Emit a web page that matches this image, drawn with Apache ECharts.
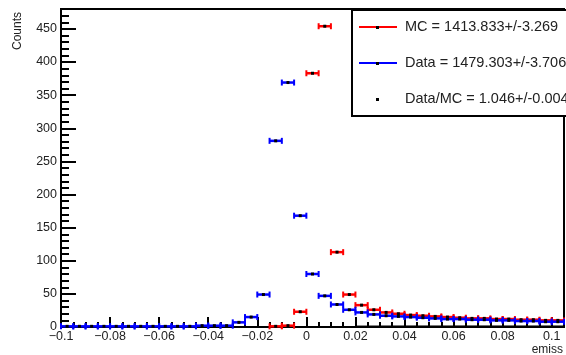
<!DOCTYPE html>
<html>
<head>
<meta charset="utf-8">
<script src="https://cdn.jsdelivr.net/npm/echarts@6/dist/echarts.min.js"></script>
<style>html,body{margin:0;padding:0;background:#fff;}#c{width:566px;height:355px;}</style>
</head>
<body>
<div id="c"></div>
<script>
const binWidth = 0.005;
const binCenters = [-0.0975,-0.0925,-0.0875,-0.0825,-0.0775,-0.0725,-0.0675,-0.0625,-0.0575,-0.0525,
  -0.0475,-0.0425,-0.0375,-0.0325,-0.0275,-0.0225,-0.0175,-0.0125,-0.0075,-0.0025,
  0.0025,0.0075,0.0125,0.0175,0.0225,0.0275,0.0325,0.0375,0.0425,0.0475,
  0.0525,0.0575,0.0625,0.0675,0.0725,0.0775,0.0825,0.0875,0.0925,0.0975,0.1025];
const mcValues = [null,null,null,null,null,null,null,null,null,null,
  null,null,null,null,null,null,null,1,2,23,
  383,454,113,49,33,26,22,20,18,17,
  16,15,14,13,13,12,12,11,11,10,10];
const dataValues = [1,1,1,1,1,1,1,1,1,1,
  1,2,2,2,7,15,49,281,369,168,
  80,47,34,26,22,19,17,16,15,14,
  13,12,12,11,11,10,10,9,9,8,8];
const ratioValues = [null,null,null,null,null,null,null,null,null,null,
  null,null,null,null,null,null,null,null,null,null,
  null,null,null,null,0.67,0.73,0.77,0.8,0.83,0.82,
  0.81,0.8,0.86,0.85,0.85,0.83,0.83,0.82,0.82,0.8,0.8];
const yTicks = [0,50,100,150,200,250,300,350,400,450];
const legendTexts = ['MC = 1413.833+/-3.269','Data = 1479.303+/-3.706','Data/MC = 1.046+/-0.004'];

const FONT = 'Liberation Sans, Arial, Helvetica, sans-serif';

function pairs(vals){ return binCenters.map((c,i)=> vals[i]==null ? null : [c, vals[i]]).filter(p=>p); }

function errBar(color, lw, capH, marker){
  return function(params, api){
    const c = api.coord([api.value(0), api.value(1)]);
    const hw = api.size([binWidth, 0])[0] / 2;
    const ch = [
      {type:'line', shape:{x1:c[0]-hw, y1:c[1], x2:c[0]+hw, y2:c[1]}, style:{stroke:color, lineWidth:lw}},
      {type:'line', shape:{x1:c[0]-hw, y1:c[1]-capH, x2:c[0]-hw, y2:c[1]+capH}, style:{stroke:color, lineWidth:2}},
      {type:'line', shape:{x1:c[0]+hw, y1:c[1]-capH, x2:c[0]+hw, y2:c[1]+capH}, style:{stroke:color, lineWidth:2}}
    ];
    if (marker) ch.push({type:'rect', shape:{x:c[0]-1.5, y:c[1]-1.5, width:3, height:3}, style:{fill:'#000'}});
    return {type:'group', children: ch};
  };
}

const chart = echarts.init(document.getElementById('c'), null, {renderer:'canvas'});
const fmtX = v => { const r = Math.round(v*1000)/1000; if (r === 0) return '0'; return (r<0?'\u2212':'') + String(Math.abs(r)); };

chart.setOption({
  animation:false,
  backgroundColor:'#fff',
  grid:{left:61, top:9, right:2, bottom:28, show:true, borderColor:'#000', borderWidth:2, backgroundColor:'transparent'},
  xAxis:{
    type:'value', min:-0.1, max:0.105, interval:0.02,
    axisLine:{show:true, onZero:false, lineStyle:{color:'#000', width:2}},
    axisTick:{show:true, inside:true, length:10, lineStyle:{color:'#000', width:2}},
    minorTick:{show:true, splitNumber:4, length:5, lineStyle:{color:'#000', width:2}},
    splitLine:{show:false},
    axisLabel:{margin:3, color:'#222', fontSize:12.5, fontFamily:FONT, showMaxLabel:false, formatter:fmtX}
  },
  yAxis:{
    type:'value', min:0, max:480, interval:50,
    axisLine:{show:true, onZero:false, lineStyle:{color:'#000', width:2}},
    axisTick:{show:true, inside:true, length:15, lineStyle:{color:'#000', width:2}},
    minorTick:{show:true, splitNumber:5, length:8, lineStyle:{color:'#000', width:2}},
    splitLine:{show:false},
    axisLabel:{margin:4, color:'#222', fontSize:12.5, fontFamily:FONT, showMaxLabel:false,
      formatter: v => yTicks.indexOf(v) >= 0 ? String(v) : ''}
  },
  series:[
    {type:'custom', name:'MC', data:pairs(mcValues), renderItem:errBar('#ff0000', 2.5, 3, true), z:3},
    {type:'custom', name:'Data', data:pairs(dataValues), renderItem:errBar('#0000ff', 2.5, 3, true), z:4},
    {type:'custom', name:'Data/MC', data:pairs(ratioValues), renderItem:errBar('#000000', 2, 0, false), z:5}
  ],
  graphic:[
    {type:'text', x:18, y:31, rotation:Math.PI/2, z:10,
      style:{text:'Counts', font:'12px '+FONT, fill:'#222', align:'center', verticalAlign:'middle'}},
    {type:'text', x:563, y:350, z:10,
      style:{text:'emiss', font:'12px '+FONT, fill:'#222', align:'right', verticalAlign:'middle'}},
    {type:'rect', x:352, y:10, z:20, shape:{width:240, height:106},
      style:{fill:'#fff', stroke:'#000', lineWidth:2}},
    {type:'line', z:21, shape:{x1:359, y1:27, x2:397, y2:27}, style:{stroke:'#ff0000', lineWidth:2}},
    {type:'rect', z:22, shape:{x:376, y:26, width:3, height:3}, style:{fill:'#000'}},
    {type:'text', x:405, y:27, z:21, style:{text:legendTexts[0], font:'14.5px '+FONT, fill:'#222', verticalAlign:'middle'}},
    {type:'line', z:21, shape:{x1:359, y1:63, x2:397, y2:63}, style:{stroke:'#0000ff', lineWidth:2}},
    {type:'rect', z:22, shape:{x:376, y:62, width:3, height:3}, style:{fill:'#000'}},
    {type:'text', x:405, y:63, z:21, style:{text:legendTexts[1], font:'14.5px '+FONT, fill:'#222', verticalAlign:'middle'}},
    {type:'rect', z:22, shape:{x:376, y:98, width:3, height:3}, style:{fill:'#000'}},
    {type:'text', x:405, y:99, z:21, style:{text:legendTexts[2], font:'14.5px '+FONT, fill:'#222', verticalAlign:'middle'}}
  ]
});
</script>
</body>
</html>
